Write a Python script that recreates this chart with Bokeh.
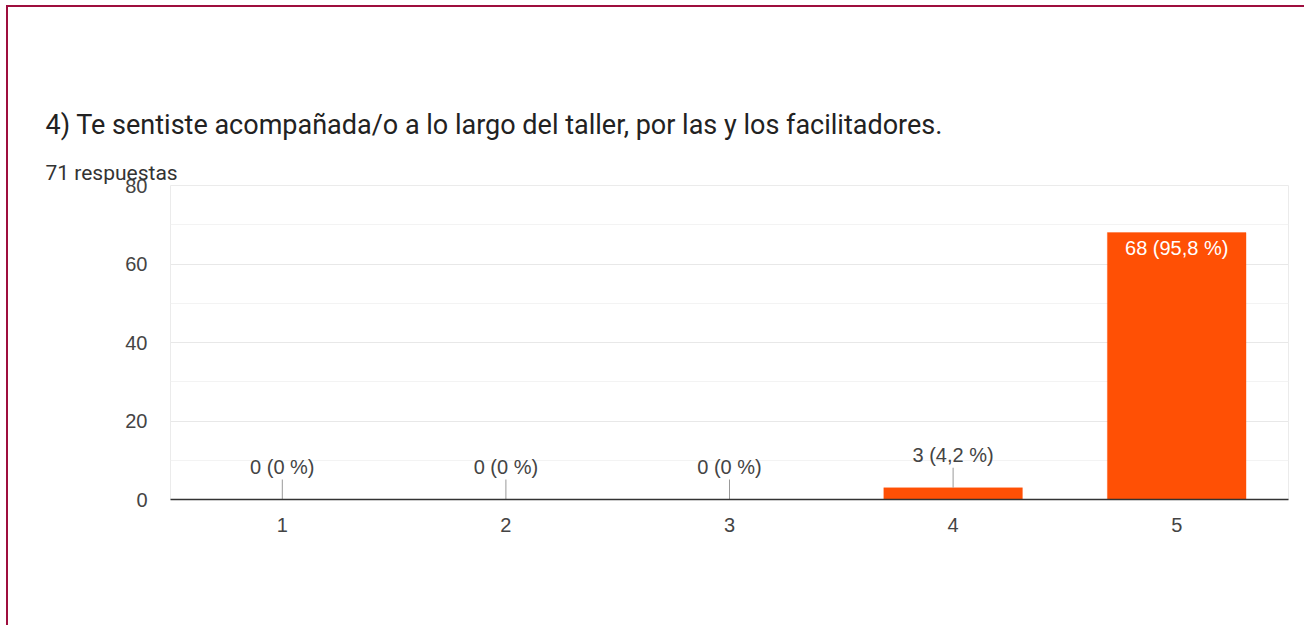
from bokeh.plotting import figure
from bokeh.models import Title, SingleIntervalTicker, ColumnDataSource
from bokeh.core.properties import value
from bokeh.embed import file_html
from bokeh.resources import INLINE

# ---- data ----
categories = ["1", "2", "3", "4", "5"]
counts = [0, 0, 0, 3, 68]
total = 71
title_text = "4) Te sentiste acompañada/o a lo largo del taller, por las y los facilitadores."
subtitle_text = "71 respuestas"

BAR = "#ff5005"
FONT = "Roboto"
CFONT = "Liberation Sans"
BORDER = "#9e0e3e"

def fmt_pct(c):
    if c == 0:
        return "0"
    return f"{100.0 * c / total:.1f}".replace(".", ",")

labels = [f"{c} ({fmt_pct(c)} %)" for c in counts]

W, H = 1304, 625
MB_L, MB_R, MB_T, MB_B = 170, 16, 185, 126
YMAX = 80
frame_h = H - MB_T - MB_B
ppu = frame_h / YMAX
lead_px = 20

inside = [c > 0.1 * max(counts) for c in counts]
out_x = [k for k, i in zip(categories, inside) if not i]
out_v = [c for c, i in zip(counts, inside) if not i]
out_l = [l for l, i in zip(labels, inside) if not i]
in_x = [k for k, i in zip(categories, inside) if i]
in_v = [c for c, i in zip(counts, inside) if i]
in_l = [l for l, i in zip(labels, inside) if i]

p = figure(x_range=categories, y_range=(0, YMAX), width=W, height=H,
           output_backend="svg", toolbar_location=None,
           min_border_left=MB_L, min_border_right=MB_R,
           min_border_top=MB_T, min_border_bottom=MB_B)
p.x_range.range_padding = 0
p.border_fill_color = None
p.background_fill_color = "#ffffff"
p.styles = {"box-shadow": f"inset 6px 5px 0 0 #ffffff, inset 8px 7px 0 0 {BORDER}"}

# blank (transparent) spacer panel between subtitle and plot area
p.add_layout(Title(text=".", align="left", standoff=49, text_font=FONT,
                   text_font_size="10px", text_alpha=0), "above")

# subtitle (closer to plot) and title (outermost)
p.add_layout(Title(text=subtitle_text, align="left", offset=-125, standoff=2,
                   text_font=FONT, text_font_size="21px", text_font_style="normal",
                   text_color="#333333"), "above")
p.title.text = title_text
p.title.align = "left"
p.title.offset = -125
p.title.standoff = 34
p.title.text_font = FONT
p.title.text_font_size = "27px"
p.title.text_font_style = "normal"
p.title.text_color = "#222222"

p.outline_line_color = "#ebebeb"
p.xgrid.visible = False
p.ygrid.grid_line_color = "#e8e8e8"
p.ygrid.minor_grid_line_color = "#f3f3f3"

p.yaxis.ticker = SingleIntervalTicker(interval=20, num_minor_ticks=2)
p.yaxis.axis_line_color = None
p.yaxis.major_tick_line_color = None
p.yaxis.minor_tick_line_color = None
p.yaxis.major_label_standoff = 17
p.yaxis.major_label_text_font = CFONT
p.yaxis.major_label_text_font_size = "20px"
p.yaxis.major_label_text_color = "#444444"

p.xaxis.axis_line_color = "#333333"
p.xaxis.axis_line_width = 1.5
p.xaxis.major_tick_line_color = None
p.xaxis.minor_tick_line_color = None
p.xaxis.major_label_standoff = 12
p.xaxis.major_label_text_font = CFONT
p.xaxis.major_label_text_font_size = "20px"
p.xaxis.major_label_text_color = "#444444"

src = ColumnDataSource(dict(x=categories, top=counts))
p.vbar(x="x", top="top", width=0.62, source=src, fill_color=BAR,
       line_color=BAR, line_alpha=0.35, line_width=1)

# leader lines + outside labels
out_src = ColumnDataSource(dict(x=out_x, y0=out_v,
                                y1=[v + lead_px / ppu for v in out_v], t=out_l))
p.segment(x0="x", y0="y0", x1="x", y1="y1", source=out_src,
          line_color="#999999", line_width=1)
p.text(x="x", y="y1", text="t", source=out_src, text_align="center",
       text_baseline="bottom", y_offset=-2, text_font=value(CFONT),
       text_font_size="20px", text_color="#444444")

in_src = ColumnDataSource(dict(x=in_x, y=in_v, t=in_l))
p.text(x="x", y="y", text="t", source=in_src, text_align="center",
       text_baseline="top", y_offset=4, text_font=value(CFONT),
       text_font_size="20px", text_color="#ffffff")

open("out.html", "w").write(file_html(p, INLINE))
